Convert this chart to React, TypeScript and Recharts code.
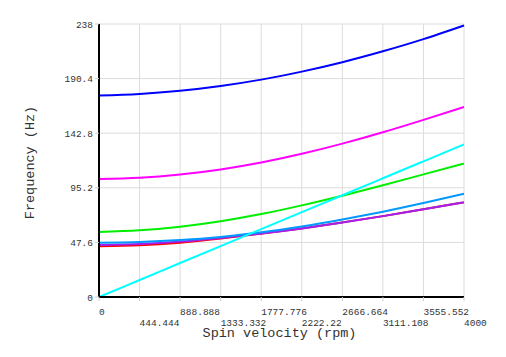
import { CartesianGrid, Line, LineChart, XAxis, YAxis } from "recharts";

const spinRpm = [0, 444.444, 888.888, 1333.332, 1777.776, 2222.22, 2666.664, 3111.108, 3555.552, 4000];
const xTickLabels = ["0", "444.444", "888.888", "1333.332", "1777.776", "2222.22", "2666.664", "3111.108", "3555.552", "4000"];
const yTicks = [0, 47.6, 95.2, 142.8, 190.4, 238];

const mode1Red = [44.3, 45.2, 47.4, 50.9, 55.2, 59.8, 65.0, 70.5, 76.5, 82.5];
const mode2Purple = [45.3, 46.2, 48.3, 51.5, 55.3, 59.8, 65.0, 70.5, 76.5, 82.5];
const mode3Azure = [47.3, 48.0, 49.6, 52.4, 56.4, 61.5, 67.6, 74.4, 81.9, 90.0];
const mode4Green = [56.7, 58.1, 61.3, 66.1, 72.3, 79.9, 88.3, 97.4, 106.9, 116.3];
const mode5Magenta = [102.9, 104.0, 106.8, 111.2, 117.2, 124.8, 133.7, 143.6, 154.4, 165.6];
const mode6Blue = [175.6, 177.0, 179.8, 184.0, 189.5, 196.5, 204.7, 214.2, 224.8, 236.7];
const excitationCyan = [0, 14.8, 29.6, 44.4, 59.2, 74.0, 88.7, 103.5, 118.3, 133.1];

const series = [
  { key: "red", color: "#ff0000", values: mode1Red },
  { key: "purple", color: "#a020f0", values: mode2Purple },
  { key: "azure", color: "#0099ff", values: mode3Azure },
  { key: "green", color: "#00ee00", values: mode4Green },
  { key: "magenta", color: "#ff00ff", values: mode5Magenta },
  { key: "blue", color: "#0000ff", values: mode6Blue },
  { key: "cyan", color: "#00ffff", values: excitationCyan },
];

const rows = spinRpm.map((rpm, i) => {
  const row: Record<string, number> = { rpm };
  series.forEach((s) => {
    row[s.key] = s.values[i];
  });
  return row;
});

const FONT = "'Liberation Mono', monospace";
const TEXT = "#333";

function XTick(props: any) {
  const { x, y, index } = props;
  const row = index % 2;
  return (
    <text
      x={x}
      y={y + (row === 0 ? 12 : 22.5)}
      textAnchor="start"
      fontFamily={FONT}
      fontSize={9.5}
      fill={TEXT}
    >
      {xTickLabels[index]}
    </text>
  );
}

function YTick(props: any) {
  const { x, y, payload } = props;
  return (
    <text x={x} y={y + 3.5} textAnchor="end" fontFamily={FONT} fontSize={9.5} fill={TEXT}>
      {String(payload.value)}
    </text>
  );
}

export default function App() {
  return (
    <div style={{ position: "absolute", left: 0, top: 0, background: "#fff" }}>
      <LineChart
        width={506}
        height={357}
        data={rows}
        margin={{ top: 24, right: 42, bottom: 0, left: 40 }}
      >
        <CartesianGrid stroke="#dcdcdc" strokeWidth={1} />
        <XAxis
          dataKey="rpm"
          type="number"
          domain={[0, 4000]}
          ticks={spinRpm}
          interval={0}
          height={60}
          axisLine={{ stroke: "#000", strokeWidth: 2 }}
          tickLine={{ stroke: "#cccccc" }}
          tickSize={4}
          tick={<XTick />}
          label={{
            content: (p: any) => {
              const vb = p.viewBox;
              return (
                <text
                  x={vb.x + vb.width / 2 - 2}
                  y={vb.y + 40}
                  textAnchor="middle"
                  fontFamily={FONT}
                  fontSize={13.5}
                  fill={TEXT}
                >
                  Spin velocity (rpm)
                </text>
              );
            },
          }}
        />
        <YAxis
          type="number"
          domain={[0, 238]}
          ticks={yTicks}
          interval={0}
          width={59}
          axisLine={{ stroke: "#000", strokeWidth: 2 }}
          tickLine={{ stroke: "#cccccc" }}
          tickSize={4}
          tick={<YTick />}
          label={{
            content: (p: any) => {
              const vb = p.viewBox;
              const cx = vb.x - 10;
              const cy = vb.y + vb.height / 2 + 2;
              return (
                <text
                  x={cx}
                  y={cy}
                  transform={`rotate(-90 ${cx} ${cy})`}
                  textAnchor="middle"
                  dominantBaseline="central"
                  fontFamily={FONT}
                  fontSize={13.5}
                  fill={TEXT}
                >
                  Frequency (Hz)
                </text>
              );
            },
          }}
        />
        {series.map((s) => (
          <Line
            key={s.key}
            dataKey={s.key}
            stroke={s.color}
            strokeWidth={2}
            dot={false}
            activeDot={false}
            type="natural"
            isAnimationActive={false}
          />
        ))}
      </LineChart>
    </div>
  );
}
